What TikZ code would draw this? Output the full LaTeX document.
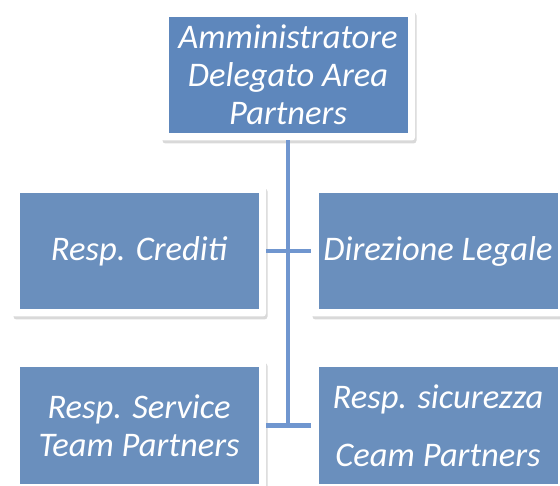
\documentclass[tikz,border=0pt]{standalone}
\usepackage{fontspec}
\setmainfont{Carlito}
\usepackage{tikz}
\usetikzlibrary{positioning,shadows}
\definecolor{boxblue}{HTML}{6A8FBD}
\definecolor{topblue}{HTML}{5E87BC}
\definecolor{lineblue}{HTML}{7096CF}

\begin{document}
\begin{tikzpicture}[x=1pt,y=-1pt,
	role/.style={rectangle, fill=white, rounded corners=3pt, minimum width=254pt,
		minimum height=131pt, inner sep=0pt, outer sep=0pt, text=white, align=center,
		font=\fontsize{34.5}{38}\selectfont\itshape,
		drop shadow={shadow xshift=1.5pt, shadow yshift=-3pt, opacity=.3},
		path picture={\fill[#1, sharp corners] ([shift={(7.5pt,7.5pt)}]path picture bounding box.south west)
			rectangle ([shift={(-7.5pt,-7.5pt)}]path picture bounding box.north east);}},
	role/.default=boxblue,
	link/.style={draw=lineblue, line width=4.5pt}]
	\clip (0,0) rectangle (560,486);
	\useasboundingbox (0,0) rectangle (560,486);
	\node[role=topblue] (ad) at (288,75) {Amministratore\\Delegato Area\\Partners};
	\node[role] (cred) at (139,251) {Resp. Crediti};
	\node[role] (legal) at (438,251) {Direzione Legale};
	\node[role] (service) at (139,425.5) {Resp. Service\\Team Partners};
	\node[role] (security) at (438,425.5) {Resp. sicurezza\\[20pt]Ceam Partners};
	
	\path[link]
	(ad) edge (ad |- service)
	(cred) edge (legal)
	(service) edge (security);
\end{tikzpicture}
\end{document}
